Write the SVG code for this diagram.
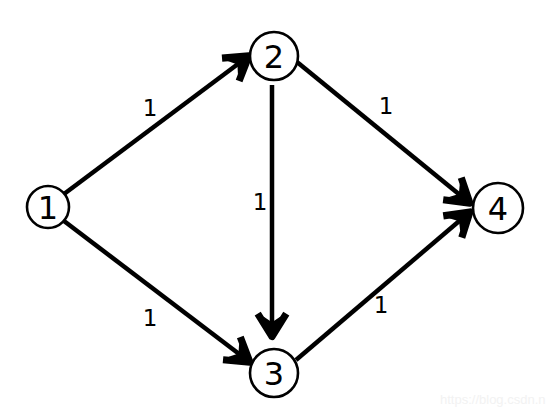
<svg xmlns="http://www.w3.org/2000/svg" width="551" height="410" viewBox="0 0 551 410">
<style>
.node circle{fill:#fff;stroke:#000;stroke-width:2.6}
.node text{font-family:"DejaVu Sans",sans-serif;font-size:32px;text-anchor:middle;dominant-baseline:central;fill:#000}
.edge{stroke:#000;stroke-width:4.5;fill:none;marker-end:url(#ah)}
.lbl{font-family:"DejaVu Sans",sans-serif;font-size:23px;text-anchor:middle;dominant-baseline:central;fill:#000}
.wm{font-family:"Liberation Sans",sans-serif;font-size:13px;fill:#f2f2f2}
</style>
<defs>
<marker id="ah" markerUnits="userSpaceOnUse" markerWidth="40" markerHeight="40" viewBox="-22 -14 26 28" refX="0" refY="0" orient="auto">
<path d="M-17,-10 L-1,0 L-17,10" fill="none" stroke="#000" stroke-width="5" stroke-linejoin="round"/>
<path d="M0,0 L-15,-6 L-11,0 L-15,6 Z" fill="#000"/>
</marker>
</defs>
<rect width="551" height="410" fill="#fff"/>
<g id="connectors">
<line class="edge" x1="64" y1="194" x2="250" y2="55"/>
<line class="edge" x1="64" y1="221" x2="251" y2="363"/>
<line class="edge" x1="272" y1="85" x2="272" y2="338"/>
<line class="edge" x1="297" y1="62" x2="471" y2="204"/>
<line class="edge" x1="296" y1="360" x2="471" y2="211"/>
<text class="lbl" x="150" y="108">1</text>
<text class="lbl" x="150" y="318">1</text>
<text class="lbl" x="260" y="202">1</text>
<text class="lbl" x="386" y="106">1</text>
<text class="lbl" x="381" y="305">1</text>
</g>
<g id="node1" class="node"><circle cx="48" cy="207" r="21"/><text x="48" y="208">1</text></g>
<g id="node2" class="node"><circle cx="274" cy="56" r="24"/><text x="274" y="57">2</text></g>
<g id="node3" class="node"><circle cx="274" cy="373" r="24"/><text x="274" y="374">3</text></g>
<g id="node4" class="node"><circle cx="498" cy="208" r="25"/><text x="498" y="209">4</text></g>
<text class="wm" x="440" y="404">https://blog.csdn.n</text>
</svg>
